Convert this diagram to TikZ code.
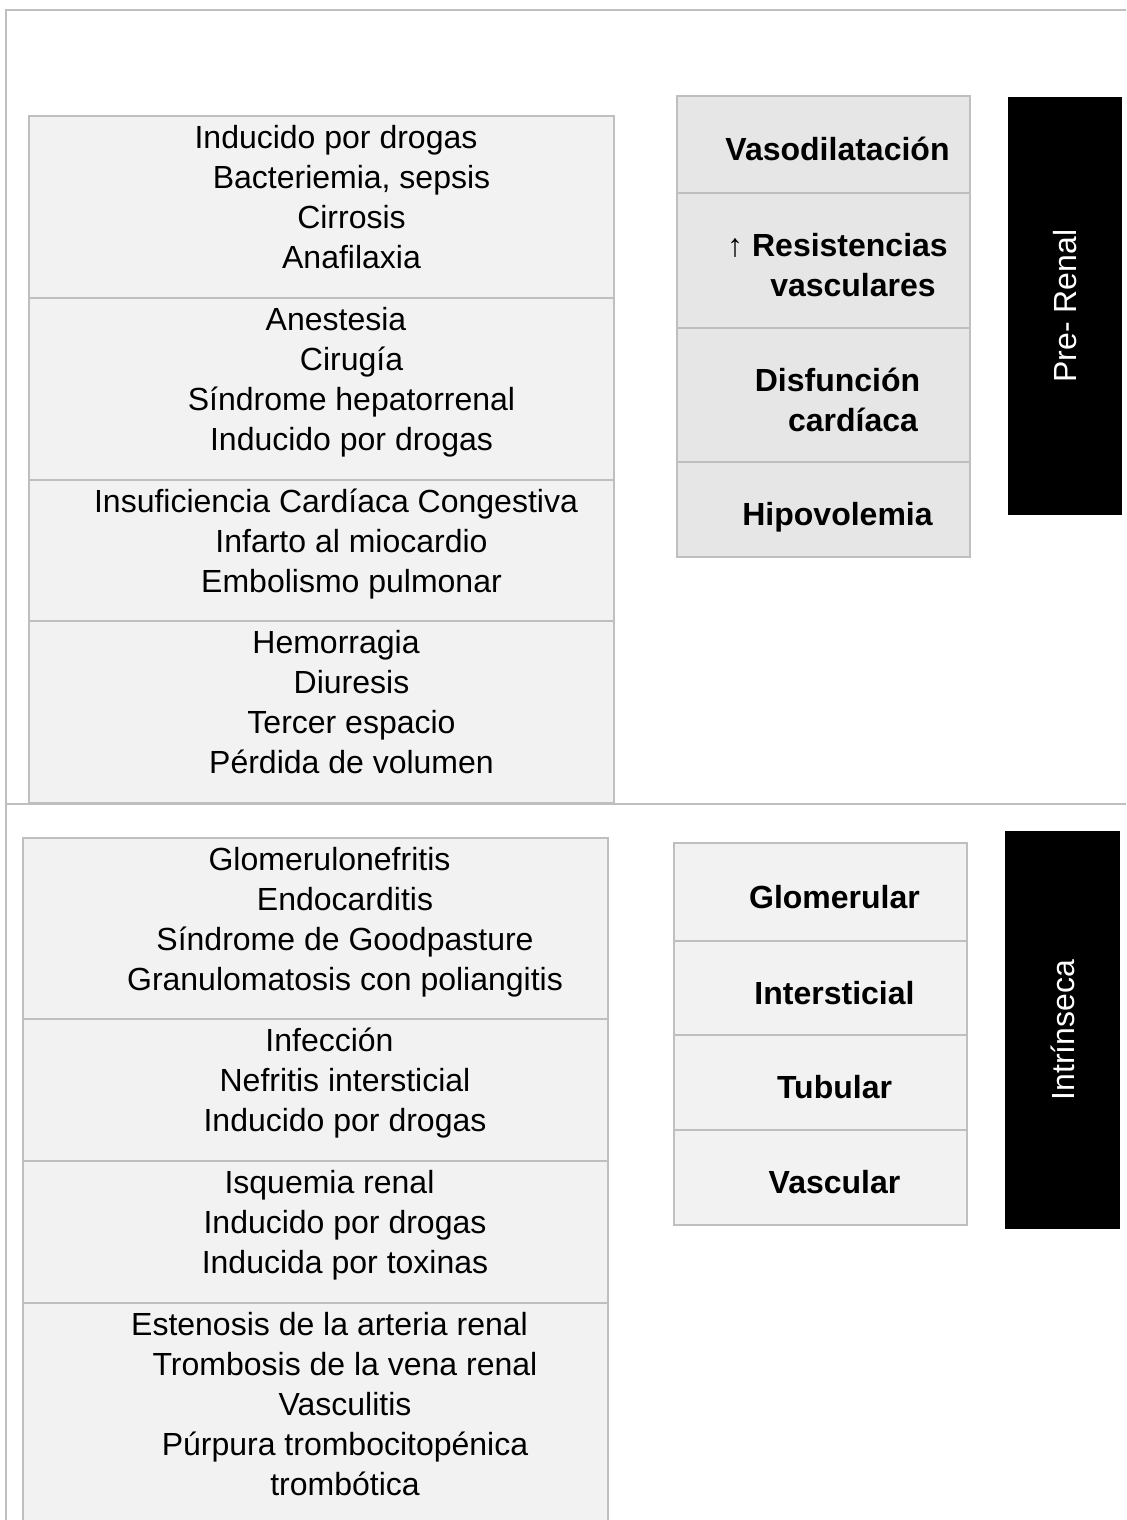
\documentclass[tikz,border=0pt]{standalone}
\usepackage{fontspec}
\setmainfont{Liberation Sans}
\usetikzlibrary{positioning}
\definecolor{cellgray}{RGB}{242,242,242}
\definecolor{headgray}{RGB}{230,230,230}
\definecolor{rulegray}{RGB}{191,191,191}
\newcommand{\lead}{\hspace*{15.5pt}}
\newcommand{\topstrut}{\rule{0pt}{14pt}}

\begin{document}
\begin{tikzpicture}[x=0.5pt, y=-0.5pt,
    box/.style={draw=rulegray, line width=0.8pt, fill=cellgray, inner sep=0pt, outer sep=0pt},
    cause/.style={box, minimum width=292.5pt, minimum height=#1},
    kind/.style={box, minimum width=146.5pt, minimum height=#1},
    txt/.style={anchor=north, align=center, inner sep=0pt, font=\fontsize{16}{20}\selectfont},
    boldtxt/.style={txt, font=\bfseries\fontsize{16}{20}\selectfont},
    tag/.style={fill=black, text=white, rotate=90, inner sep=0pt, font=\fontsize{16}{20}\selectfont},
    sheet/.style={draw=rulegray, line width=0.8pt}]
  \clip (0,0) rectangle (1126,1520);

  % outer frame and divider
  \coordinate (tl) at (6,10);
  \draw[sheet] (6,1520) -- (tl) -- (1126,10);
  \draw[sheet] (6,804) -- (1126,804);

  % Pre-renal: causes
  \node[cause=91pt, anchor=north west] (pc1) at (29,116) {};
  \node[cause=91pt, below=0pt of pc1] (pc2) {};
  \node[cause=70.5pt, below=0pt of pc2] (pc3) {};
  \node[cause=91pt, below=0pt of pc3] (pc4) {};
  \node[txt] (pt1) at ([xshift=7.25pt, yshift=-2.25pt]pc1.north) {\topstrut Inducido por drogas\\\lead Bacteriemia, sepsis\\\lead Cirrosis\\\lead Anafilaxia};
  \node[txt] (pt2) at ([xshift=7.25pt, yshift=-2.25pt]pc2.north) {\topstrut Anestesia\\\lead Cirugía\\\lead Síndrome hepatorrenal\\\lead Inducido por drogas};
  \node[txt] (pt3) at ([xshift=7.25pt, yshift=-2.25pt]pc3.north) {\topstrut Insuficiencia Cardíaca Congestiva\\\lead Infarto al miocardio\\\lead Embolismo pulmonar};
  \node[txt] (pt4) at ([xshift=7.25pt, yshift=-2.25pt]pc4.north) {\topstrut Hemorragia\\\lead Diuresis\\\lead Tercer espacio\\\lead Pérdida de volumen};

  % Pre-renal: mechanisms
  \node[kind=48.5pt, fill=headgray, anchor=north west] (pk1) at (677,96) {};
  \node[kind=67.5pt, fill=headgray, below=0pt of pk1] (pk2) {};
  \node[kind=67pt, fill=headgray, below=0pt of pk2] (pk3) {};
  \node[kind=47.5pt, fill=headgray, below=0pt of pk3] (pk4) {};
  \node[boldtxt] (pn1) at ([xshift=7pt, yshift=6pt]pk1.center) {\topstrut Vasodilatación};
  \node[boldtxt] (pn2) at ([xshift=7pt, yshift=16pt]pk2.center) {\topstrut{\mdseries ↑} Resistencias\\\lead vasculares};
  \node[boldtxt] (pn3) at ([xshift=7pt, yshift=16pt]pk3.center) {\topstrut Disfunción\\\lead cardíaca};
  \node[boldtxt] (pn4) at ([xshift=7pt, yshift=6pt]pk4.center) {\topstrut Hipovolemia};

  \node[tag, minimum width=209pt, minimum height=57pt] (prerenal) at (1065,306) {Pre- Renal};

  % Intrinsic: causes
  \node[cause=90.5pt, anchor=north west] (ic1) at (23,838) {};
  \node[cause=71pt, below=0pt of ic1] (ic2) {};
  \node[cause=71pt, below=0pt of ic2] (ic3) {};
  \node[cause=118.5pt, below=0pt of ic3] (ic4) {};
  \node[txt] (it1) at ([xshift=7pt, yshift=-2pt]ic1.north) {\topstrut Glomerulonefritis\\\lead Endocarditis\\\lead Síndrome de Goodpasture\\\lead Granulomatosis con poliangitis};
  \node[txt] (it2) at ([xshift=7pt, yshift=-2pt]ic2.north) {\topstrut Infección\\\lead Nefritis intersticial\\\lead Inducido por drogas};
  \node[txt] (it3) at ([xshift=7pt, yshift=-2pt]ic3.north) {\topstrut Isquemia renal\\\lead Inducido por drogas\\\lead Inducida por toxinas};
  \node[txt] (it4) at ([xshift=7pt, yshift=-2pt]ic4.north) {\topstrut Estenosis de la arteria renal\\\lead Trombosis de la vena renal\\\lead Vasculitis\\\lead Púrpura trombocitopénica\\\lead trombótica};

  % Intrinsic: sites
  \node[kind=49pt, anchor=north west] (ik1) at (674,843) {};
  \node[kind=47pt, below=0pt of ik1] (ik2) {};
  \node[kind=47.5pt, below=0pt of ik2] (ik3) {};
  \node[kind=47.5pt, below=0pt of ik3] (ik4) {};
  \node[boldtxt] (in1) at ([xshift=7pt, yshift=6pt]ik1.center) {\topstrut Glomerular};
  \node[boldtxt] (in2) at ([xshift=7pt, yshift=6pt]ik2.center) {\topstrut Intersticial};
  \node[boldtxt] (in3) at ([xshift=7pt, yshift=6pt]ik3.center) {\topstrut Tubular};
  \node[boldtxt] (in4) at ([xshift=7pt, yshift=6pt]ik4.center) {\topstrut Vascular};

  \node[tag, minimum width=199pt, minimum height=57.5pt] (intrinseca) at (1062.5,1030) {Intrínseca};
\end{tikzpicture}
\end{document}
